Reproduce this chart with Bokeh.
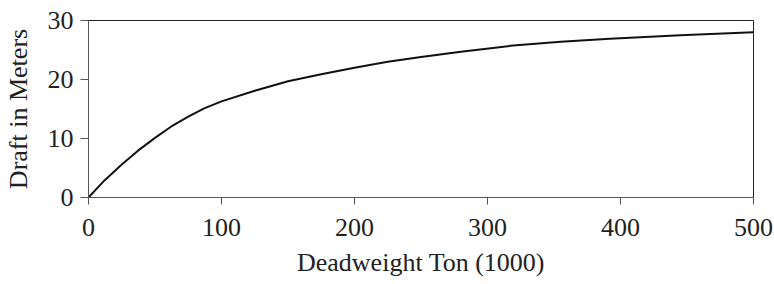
from bokeh.plotting import figure
from bokeh.models import Range1d, FixedTicker
from bokeh.embed import file_html
from bokeh.resources import INLINE

# Data
deadweight = [0, 12, 25, 37, 50, 62, 75, 87, 100, 125, 150, 175, 200, 225, 250,
              280, 317, 355, 392, 445, 500]
draft = [0, 2.9, 5.6, 7.9, 10.1, 12.0, 13.7, 15.1, 16.3, 18.1, 19.7, 20.9, 22.0, 23.0, 23.8,
         24.7, 25.7, 26.4, 26.9, 27.5, 28.0]
x_ticks = [0, 100, 200, 300, 400, 500]
y_ticks = [0, 10, 20, 30]

FONT = "Liberation Serif"

p = figure(width=774, height=284, output_backend="svg", toolbar_location=None,
           x_range=Range1d(0, 500), y_range=Range1d(0, 30),
           min_border_left=88, min_border_top=20, min_border_right=21, min_border_bottom=87)

p.line(deadweight, draft, line_color="#111111", line_width=2, line_join="round")

p.xgrid.visible = False
p.ygrid.visible = False
p.outline_line_color = "#222222"
p.outline_line_width = 1

for ax in (p.xaxis[0], p.yaxis[0]):
    ax.axis_line_color = "#555555"
    ax.major_tick_line_color = "#555555"
    ax.minor_tick_line_color = None
    ax.major_tick_in = 0
    ax.major_label_text_font = FONT
    ax.major_label_text_font_size = "26px"
    ax.major_label_text_color = "#222222"
    ax.axis_label_text_font = FONT
    ax.axis_label_text_font_size = "26px"
    ax.axis_label_text_font_style = "normal"
    ax.axis_label_text_color = "#222222"

p.xaxis.ticker = FixedTicker(ticks=x_ticks)
p.yaxis.ticker = FixedTicker(ticks=y_ticks)
p.xaxis.axis_label = "Deadweight Ton (1000)"
p.yaxis.axis_label = "Draft in Meters"
p.xaxis.major_tick_out = 7
p.yaxis.major_tick_out = 8
p.xaxis.major_label_standoff = 14
p.yaxis.major_label_standoff = 7
p.xaxis.axis_label_standoff = 9
p.yaxis.axis_label_standoff = 12

open("out.html", "w").write(file_html(p, INLINE))
